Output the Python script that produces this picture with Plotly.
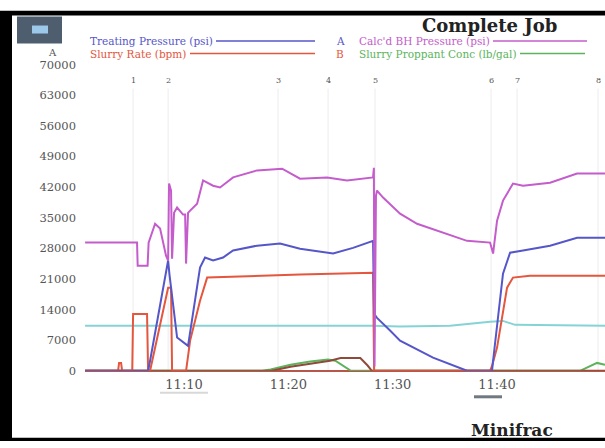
import plotly.graph_objects as go

# ---------------- data (time in minutes after 11:00) ----------------
bh_t = [0.51, 5.49, 5.55, 6.50, 6.60, 7.22, 7.70, 8.27, 8.47, 8.56, 8.75, 8.85, 9.04, 9.33, 9.90, 10.10,
        10.19, 10.38, 10.58, 11.25, 11.82, 12.78, 13.45, 14.70, 17.00, 19.40, 21.12, 23.71, 25.63, 28.12,
        28.20, 28.26, 28.40, 28.50, 29.08, 30.71, 32.34, 34.83, 37.13, 39.34, 39.63, 40.01, 40.58, 41.54,
        42.50, 45.09, 47.68, 50.36]
bh_v = [29300, 29300, 24000, 24000, 29300, 33600, 32500, 26300, 25200, 42800, 41200, 25600, 36100, 37300,
        35700, 35700, 24500, 36100, 36600, 38200, 43500, 42300, 41900, 44200, 45800, 46200, 43900, 44200,
        43500, 44200, 46400, 1000, 40000, 41200, 39600, 35900, 33600, 31600, 29700, 29300, 26800, 34300,
        38900, 42800, 42300, 43000, 45100, 45100]

tp_t = [0.51, 6.55, 6.74, 8.47, 8.60, 9.33, 10.38, 11.53, 12.01, 12.78, 13.74, 14.70, 17.00, 19.20, 21.12,
        24.29, 26.20, 28.12, 28.22, 28.50, 29.75, 30.71, 33.87, 37.13, 39.53, 39.63, 40.58, 41.26, 42.50,
        45.09, 47.68, 50.36]
tp_v = [0, 0, 2300, 25200, 22000, 7600, 5700, 23600, 25900, 25200, 25900, 27500, 28600, 29100, 27900,
        26800, 28100, 29700, 13000, 12100, 9200, 6900, 3000, 0, 0, 2300, 22200, 27000, 27500, 28600,
        30400, 30400]

sr_t = [0.51, 3.67, 3.77, 3.96, 4.06, 5.03, 5.11, 6.45, 6.55, 6.74, 8.47, 8.75, 8.85, 10.19, 10.58, 11.53,
        12.21, 16.33, 21.12, 28.12, 28.22, 39.34, 39.53, 40.01, 40.58, 40.97, 41.54, 43.17, 50.36]
sr_v = [0, 0, 1800, 1800, 0, 0, 13000, 13000, 0, 0, 19000, 19000, 0, 0, 6900, 16000, 21300, 21700, 22000,
        22400, 0, 0, 1100, 5300, 13700, 19000, 21300, 21700, 21700]

cy_t = [0.51, 28.12, 30.71, 35.50, 39.34, 40.58, 41.74, 50.36]
cy_v = [10300, 10300, 10100, 10300, 11200, 11400, 10500, 10300]

pc_t = [0.51, 17.50, 18.30, 20.20, 22.10, 23.80, 24.50, 25.40, 26.00, 47.97, 48.93, 49.60, 50.36]
pc_v = [0, 0, 300, 1400, 2100, 2600, 2300, 800, 0, 0, 1100, 1800, 1400]

bp_t = [0.51, 18.40, 20.20, 22.10, 24.00, 25.00, 26.90, 27.60, 28.00, 50.36]
bp_v = [0, 0, 900, 1600, 2300, 2900, 2900, 1200, 0, 0]

event_t = [5.11, 8.47, 19.01, 23.81, 28.31, 39.43, 41.93, 49.69]
event_lbl = ["1", "2", "3", "4", "5", "6", "7", "8"]

y_ticks = [0, 7000, 14000, 21000, 28000, 35000, 42000, 49000, 56000, 63000, 70000]
x_ticks = [10, 20, 30, 40, 50]
x_tick_lbl = ["11:10", "11:20", "11:30", "11:40", "11:50"]

# ---------------- figure ----------------
W, H = 605, 448
# observed vertical mapping of the rendered page: screen = 6.5 + 0.968 * design
def px(x): return x / W
def py(t):
    d = (t - 6.5) / 0.968
    return 1 - d / H

fig = go.Figure()
line_w = 2
fig.add_trace(go.Scatter(x=cy_t, y=cy_v, mode="lines", line=dict(color="#86d3d6", width=line_w), name="Cyan"))
fig.add_trace(go.Scatter(x=pc_t, y=pc_v, mode="lines", line=dict(color="#5cb35c", width=line_w),
                         name="Slurry Proppant Conc (lb/gal)"))
fig.add_trace(go.Scatter(x=bp_t, y=bp_v, mode="lines", line=dict(color="#8f4a3a", width=line_w), name="BH Conc"))
fig.add_trace(go.Scatter(x=sr_t, y=sr_v, mode="lines", line=dict(color="#e4563e", width=line_w),
                         name="Slurry Rate (bpm)"))
fig.add_trace(go.Scatter(x=tp_t, y=tp_v, mode="lines", line=dict(color="#5556c9", width=line_w),
                         name="Treating Pressure (psi)"))
fig.add_trace(go.Scatter(x=bh_t, y=bh_v, mode="lines", line=dict(color="#c45ccb", width=line_w),
                         name="Calc'd BH Pressure (psi)"))

shapes = []
annotations = []

def note(x, y, text, size, color, family="DejaVu Serif", xanchor="center"):
    annotations.append(dict(xref="paper", yref="paper", x=px(x), y=py(y), xanchor=xanchor, yanchor="middle",
                            text=text, showarrow=False, font=dict(family=family, size=size, color=color)))

# event lines + labels
for t, lbl in zip(event_t, event_lbl):
    shapes.append(dict(type="line", xref="x", yref="y", x0=t, x1=t, y0=0, y1=64500,
                       line=dict(color="#ececec", width=1), layer="below"))
    annotations.append(dict(xref="x", yref="y", x=t, y=66300, text=lbl, showarrow=False,
                            xanchor="center", yanchor="middle",
                            font=dict(family="DejaVu Serif", size=8, color="#555555")))

# black frame
shapes.append(dict(type="rect", xref="paper", yref="paper", x0=0, x1=1, y0=0, y1=py(10),
                   fillcolor="black", line=dict(width=0), layer="below"))
shapes.append(dict(type="rect", xref="paper", yref="paper", x0=px(12), x1=1.01, y0=py(437), y1=py(15),
                   fillcolor="white", line=dict(width=0), layer="below"))
shapes.append(dict(type="rect", xref="paper", yref="paper", x0=0, x1=1, y0=py(10), y1=1.01,
                   fillcolor="white", line=dict(width=0), layer="below"))

# top-left icon box
shapes.append(dict(type="rect", xref="paper", yref="paper", x0=px(17), x1=px(62), y0=py(43), y1=py(16),
                   fillcolor="#4e5e6e", line=dict(width=0)))
shapes.append(dict(type="rect", xref="paper", yref="paper", x0=px(32), x1=px(48), y0=py(33), y1=py(25),
                   fillcolor="#9cc8ea", line=dict(width=0)))

# manual legend
legend_rows = [
    ("Treating Pressure (psi)", "#5556c9", 88, 40.5, 216, 315),
    ("Slurry Rate (bpm)", "#e4563e", 88, 53, 190, 315),
    ("Calc'd BH Pressure (psi)", "#c45ccb", 357, 40.5, 493, 587),
    ("Slurry Proppant Conc (lb/gal)", "#5cb35c", 357, 53, 520, 585),
]
for text, col, x0, yy, l0, l1 in legend_rows:
    note(x0, yy, text, 10.5, col, xanchor="left")
    shapes.append(dict(type="line", xref="paper", yref="paper", x0=px(l0), x1=px(l1), y0=py(yy), y1=py(yy),
                       line=dict(color=col, width=1.5)))
note(340, 40.5, "A", 10.5, "#5556c9")
note(340, 53, "B", 10.5, "#e4563e")
note(52, 52, "A", 10, "#555555")

# title and footer
note(489, 25, "<b>Complete Job</b>", 18, "#222222")
note(512, 429, "<b>Minifrac</b>", 17, "#222222")

# small marks under the time axis
shapes.append(dict(type="line", xref="paper", yref="paper", x0=px(160), x1=px(208), y0=py(392), y1=py(392),
                   line=dict(color="#d8d8d8", width=2)))
shapes.append(dict(type="line", xref="paper", yref="paper", x0=px(474), x1=px(502), y0=py(396), y1=py(396),
                   line=dict(color="#707880", width=3)))

fig.update_layout(
    width=W, height=H,
    margin=dict(l=0, r=0, t=0, b=0),
    paper_bgcolor="white", plot_bgcolor="white",
    showlegend=False,
    shapes=shapes, annotations=annotations,
    xaxis=dict(domain=[px(85), 1], range=[0.5, 50.36], tickvals=x_ticks, ticktext=x_tick_lbl,
               showgrid=False, zeroline=False, showline=False, ticks="",
               ticklabelstandoff=4,
               tickfont=dict(family="DejaVu Serif", size=13, color="#555555")),
    yaxis=dict(domain=[py(370), py(64)], range=[0, 70000], tickvals=y_ticks,
               ticktext=[str(v) for v in y_ticks], showgrid=False, zeroline=True,
               zerolinecolor="#b5574a", zerolinewidth=2, showline=False, ticks="",
               ticklabelstandoff=8,
               tickfont=dict(family="DejaVu Serif", size=11.5, color="#555555")),
)

fig.write_html("out.html")
